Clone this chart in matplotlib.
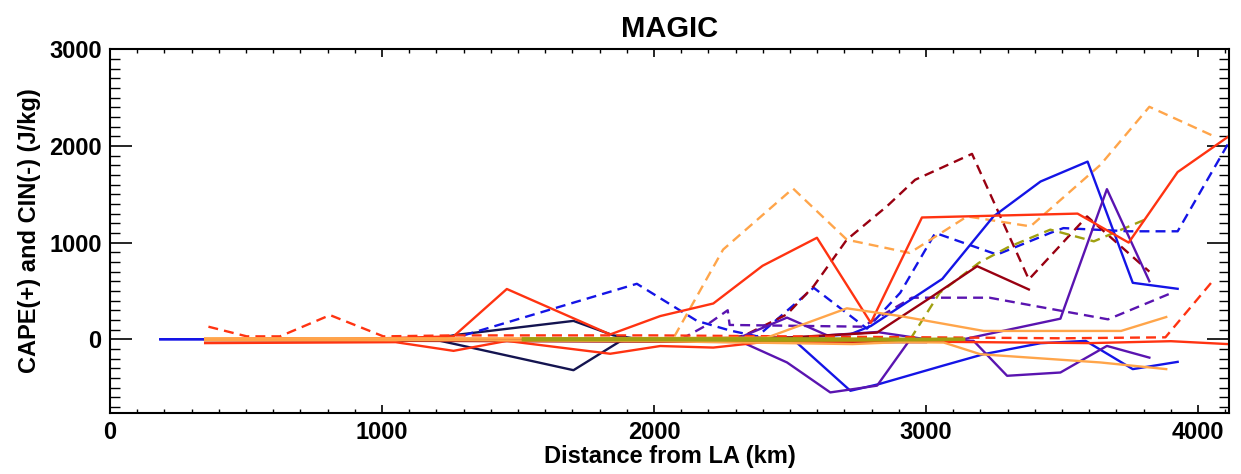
import matplotlib
matplotlib.use("Agg")
import matplotlib.pyplot as plt
from matplotlib.ticker import MultipleLocator

# ---- data (distance km, J/kg) ----
navy_cape_x = [350, 800, 1188, 1269, 1704, 1851, 1950]
navy_cape_y = [0, 0, 0, 44, 190, 40, 0]
navy_cin_x = [350, 800, 1188, 1704, 1876, 1950]
navy_cin_y = [0, 0, 0, -320, -20, 0]

red_cape_x = [350, 600, 800, 1000, 1263, 1459, 1839, 2023, 2218, 2399, 2599, 2797,
              2985, 3557, 3745, 3925, 4113]
red_cape_y = [0, 10, 5, 10, 30, 520, 50, 240, 370, 760, 1050, 170,
              1260, 1300, 1000, 1730, 2100]
red_cin_x = [350, 1050, 1263, 1459, 1839, 2023, 2218, 2400, 2800, 3200, 3600, 3900, 4110]
red_cin_y = [-40, -30, -120, -17, -150, -70, -86, -30, -20, -30, -40, -20, -50]
red_dash_x = [362, 503, 625, 809, 1005, 1263, 1500, 2000, 2500, 3000, 3500, 3880, 4053]
red_dash_y = [130, 30, 30, 250, 30, 40, 40, 40, 30, 20, 10, 20, 600]

blue_cape_x = [185, 700, 1200, 1800, 2300, 2560, 2722, 2797, 3060, 3248, 3421, 3594, 3760, 3925]
blue_cape_y = [0, 0, 0, 0, 0, 20, 52, 137, 625, 1271, 1632, 1838, 584, 522]
blue_cin_x = [185, 1200, 2000, 2511, 2722, 2827, 3060, 3211, 3421, 3587, 3760, 3925]
blue_cin_y = [0, 0, 0, 0, -533, -464, -275, -155, -41, -17, -309, -234]
blue_dash_x = [1300, 1937, 2158, 2280, 2380, 2587, 2783, 2905, 3034, 3261, 3457, 3505,
               3745, 3925, 4110]
blue_dash_y = [40, 574, 190, 90, 30, 533, 110, 480, 1100, 876, 1100, 1150,
               1117, 1117, 2020]

orange_cape_x = [350, 800, 1300, 1800, 2415, 2709, 2905, 3212, 3717, 3883]
orange_cape_y = [10, 10, 10, 10, 17, 320, 240, 86, 86, 230]
orange_cin_x = [350, 1300, 2000, 2730, 2900, 3065, 3200, 3641, 3883]
orange_cin_y = [-10, -10, -20, -50, -30, -34, -155, -240, -309]
orange_dash_x = [2075, 2254, 2511, 2709, 2940, 3151, 3384, 3641, 3821, 4062]
orange_dash_y = [30, 928, 1560, 1030, 893, 1271, 1168, 1804, 2405, 2096]

maroon_cape_x = [350, 1000, 1800, 2500, 2820, 3016, 3188, 3378]
maroon_cape_y = [0, 0, 0, 20, 69, 430, 756, 515]
maroon_cin_x = [350, 1500, 2500, 3000]
maroon_cin_y = [-10, -20, -30, -30]
maroon_dash_x = [2230, 2328, 2489, 2587, 2709, 2856, 2960, 3169, 3378, 3592, 3821]
maroon_dash_y = [0, 34, 258, 550, 1031, 1375, 1650, 1918, 619, 1271, 700]

purple_cape_x = [2300, 2489, 2636, 2820, 3000, 3138, 3494, 3665, 3821]
purple_cape_y = [0, 224, 41, 75, 0, 0, 213, 1553, 600]
purple_cin_x = [2300, 2489, 2648, 2820, 2942, 3175, 3298, 3494, 3665, 3821]
purple_cin_y = [0, -240, -550, -480, 0, -17, -378, -344, -69, -190]
purple_dash_x = [2100, 2188, 2271, 2278, 2767, 2948, 3233, 3669, 3895]
purple_dash_y = [0, 137, 300, 148, 130, 430, 430, 206, 470]

olive_cape_x = [1520, 2000, 2500, 3000, 3138]
olive_cape_y = [5, 5, 5, 0, 0]
olive_cin_x = [1520, 2000, 2500, 3000, 3138]
olive_cin_y = [-5, -5, -10, -5, 0]
olive_dash_x = [2942, 3050, 3194, 3300, 3457, 3617, 3815]
olive_dash_y = [0, 480, 790, 950, 1134, 1013, 1250]

NAVY, RED, BLUE = "#141450", "#ff3311", "#1414e6"
ORANGE, MAROON, PURPLE, OLIVE = "#ffa54a", "#990011", "#5a14b0", "#a0a010"

plt.rcParams["font.family"] = ["Liberation Sans", "DejaVu Sans"]
plt.rcParams["font.weight"] = "bold"

fig = plt.figure(figsize=(12.41, 4.74), dpi=100)
ax = fig.add_axes([0.0886, 0.1293, 0.9020, 0.7667])

lw = 1.7
dash = (0, (4.2, 2.6))
series = [
    (navy_cape_x, navy_cape_y, NAVY, "-"), (navy_cin_x, navy_cin_y, NAVY, "-"),
    (blue_dash_x, blue_dash_y, BLUE, dash),
    (orange_dash_x, orange_dash_y, ORANGE, dash),
    (maroon_dash_x, maroon_dash_y, MAROON, dash),
    (purple_dash_x, purple_dash_y, PURPLE, dash),
    (olive_dash_x, olive_dash_y, OLIVE, dash),
    (blue_cape_x, blue_cape_y, BLUE, "-"), (blue_cin_x, blue_cin_y, BLUE, "-"),
    (purple_cape_x, purple_cape_y, PURPLE, "-"), (purple_cin_x, purple_cin_y, PURPLE, "-"),
    (maroon_cape_x, maroon_cape_y, MAROON, "-"), (maroon_cin_x, maroon_cin_y, MAROON, "-"),
    (red_dash_x, red_dash_y, RED, dash),
    (red_cape_x, red_cape_y, RED, "-"), (red_cin_x, red_cin_y, RED, "-"),
    (orange_cape_x, orange_cape_y, ORANGE, "-"), (orange_cin_x, orange_cin_y, ORANGE, "-"),
]
for x, y, c, ls in series:
    ax.plot(x, y, color=c, linestyle=ls, linewidth=lw)
ax.plot(olive_cape_x, olive_cape_y, color=OLIVE, linewidth=2.4)
ax.plot(olive_cin_x, olive_cin_y, color=OLIVE, linewidth=2.4)

ax.set_xlim(0, 4115)
ax.set_ylim(-760, 3000)
ax.xaxis.set_major_locator(MultipleLocator(1000))
ax.xaxis.set_minor_locator(MultipleLocator(100))
ax.yaxis.set_major_locator(MultipleLocator(1000))
ax.yaxis.set_minor_locator(MultipleLocator(100))
ax.tick_params(axis="x", which="major", direction="in", length=5.8, width=1.2,
               top=True, labelsize=17, pad=6)
ax.tick_params(axis="x", which="minor", direction="in", length=2.9, width=1.0, top=True)
ax.tick_params(axis="y", which="major", direction="in", length=15.8, width=1.2,
               right=True, labelsize=17, pad=6)
ax.tick_params(axis="y", which="minor", direction="in", length=7.2, width=1.0, right=True)
for s in ax.spines.values():
    s.set_linewidth(1.5)

ax.set_title("MAGIC", fontsize=21, fontweight="bold", pad=9)
ax.set_xlabel("Distance from LA (km)", fontsize=17, fontweight="bold", labelpad=1)
ax.set_ylabel("CAPE(+) and CIN(-) (J/kg)", fontsize=17, fontweight="bold", labelpad=6)

fig.savefig("out.png", dpi=100)
